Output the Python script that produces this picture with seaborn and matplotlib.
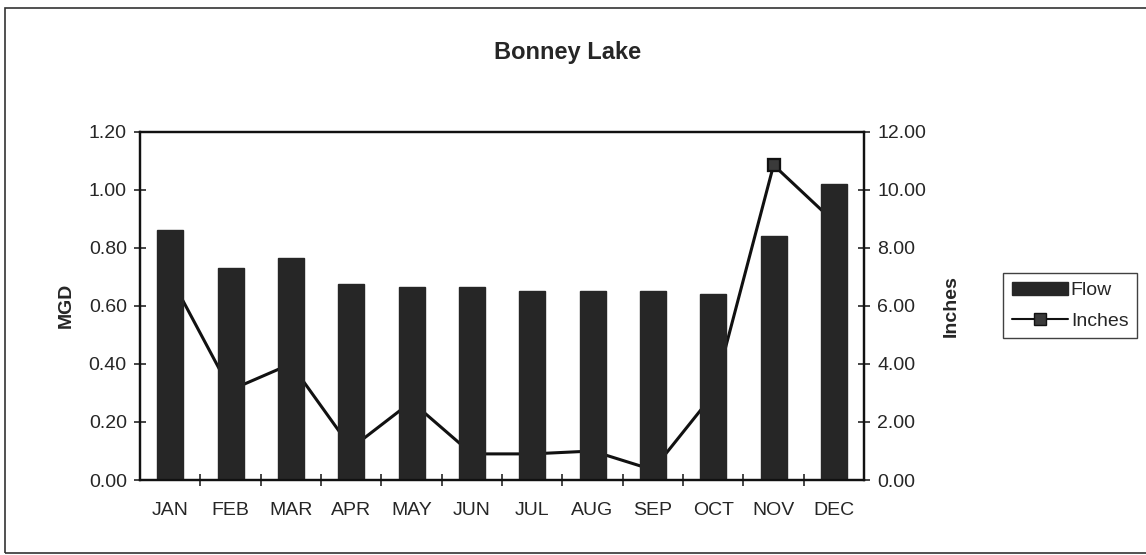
import matplotlib

matplotlib.use("Agg")

import matplotlib.pyplot as plt
import pandas as pd
import seaborn as sns
from matplotlib.lines import Line2D
from matplotlib.patches import Patch, Rectangle
from matplotlib.ticker import FixedLocator, FormatStrFormatter, MultipleLocator

months = ["JAN", "FEB", "MAR", "APR", "MAY", "JUN", "JUL", "AUG", "SEP", "OCT", "NOV", "DEC"]
flow_mgd = [0.86, 0.73, 0.765, 0.675, 0.665, 0.665, 0.65, 0.65, 0.65, 0.64, 0.84, 1.02]
rain_inches = [7.0, 3.1, 4.0, 1.1, 2.7, 0.9, 0.9, 1.0, 0.35, 2.95, 10.85, 8.9]

df = pd.DataFrame({"month": months, "flow": flow_mgd, "inches": rain_inches})

sns.set_style("white")
plt.rcParams["font.family"] = ["Liberation Sans", "DejaVu Sans"]

dark = "#262626"
fs = 14

fig = plt.figure(figsize=(11.46, 5.55), dpi=100)
ax = fig.add_axes([0.1222, 0.1351, 0.6318, 0.6276])
ax2 = ax.twinx()

# bars on the primary axis, drawn above the rainfall line
ax.set_zorder(2)
ax.patch.set_visible(False)

sns.barplot(data=df, x="month", y="flow", color=dark, width=0.43, saturation=1,
            edgecolor=dark, ax=ax)
sns.pointplot(data=df, x="month", y="inches", color="#111111", marker="s", markersize=9,
              linewidth=2.2, markeredgecolor="#111111", markerfacecolor="#3a3a3a", ax=ax2)

ax.set_xlim(-0.5, 11.5)
ax.set_ylim(0, 1.2)
ax2.set_ylim(0, 12)
ax.yaxis.set_major_locator(MultipleLocator(0.2))
ax.yaxis.set_major_formatter(FormatStrFormatter("%.2f"))
ax2.yaxis.set_major_locator(MultipleLocator(2))
ax2.yaxis.set_major_formatter(FormatStrFormatter("%.2f"))

ax.xaxis.set_minor_locator(FixedLocator([i + 0.5 for i in range(11)]))
ax.tick_params(axis="x", which="major", length=0, pad=16, labelsize=fs)
ax.tick_params(axis="x", which="minor", direction="inout", length=9, width=1.2, bottom=True)
ax.tick_params(axis="y", direction="inout", length=9, width=1.2, left=True, labelsize=fs, pad=5)
ax2.tick_params(axis="y", direction="inout", length=9, width=1.2, right=True, labelsize=fs, pad=5)

for a in (ax, ax2):
    for side in a.spines.values():
        side.set_color("#111111")
        side.set_linewidth(1.6)

ax.set_xlabel("")
ax.set_ylabel("MGD", fontsize=fs, fontweight="bold", labelpad=10)
ax2.set_ylabel("Inches", fontsize=fs, fontweight="bold", labelpad=12)

fig.text(0.495, 0.905, "Bonney Lake", ha="center", va="center", fontsize=17, fontweight="bold",
         family=["Liberation Sans Narrow", "Liberation Sans", "DejaVu Sans"])

handles = [
    Patch(facecolor=dark, edgecolor=dark, label="Flow"),
    Line2D([], [], color="#111111", linewidth=1.5, marker="s", markersize=9,
           markerfacecolor="#3a3a3a", markeredgecolor="#111111", label="Inches"),
]
fig.legend(handles=handles, loc="upper left", bbox_to_anchor=(0.875, 0.508), frameon=True,
           fancybox=False, edgecolor="#111111", fontsize=fs, handlelength=2.9,
           handletextpad=0.15, borderpad=0.45, labelspacing=0.65, borderaxespad=0)

fig.patches.append(Rectangle((0.0045, 0.004), 1.2, 0.982, transform=fig.transFigure,
                             fill=False, edgecolor="#333333", linewidth=1.2))

fig.savefig("out.png", dpi=100, facecolor="white")
